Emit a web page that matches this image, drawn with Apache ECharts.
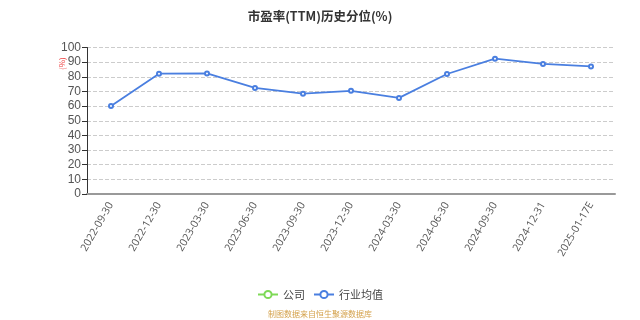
<!DOCTYPE html>
<html><head><meta charset="utf-8">
<script src="https://cdn.jsdelivr.net/npm/echarts@6/dist/echarts.min.js"></script>
<style>html,body{margin:0;padding:0;background:#fff}#c{width:640px;height:320px}</style>
</head><body><div id="c"></div>
<script>
const categories = ['2022-09-30','2022-12-30','2023-03-30','2023-06-30','2023-09-30','2023-12-30','2024-03-30','2024-06-30','2024-09-30','2024-12-31','2025-01-17E'];
const companyValues = [];
const industryValues = [60.1, 82.1, 82.3, 72.4, 68.5, 70.4, 65.6, 81.9, 92.4, 88.8, 87.1];
const yTicks = [0, 10, 100];
const chart = echarts.init(document.getElementById('c'));
chart.setOption({
  animation: false,
  title: {text: '市盈率(TTM)历史分位(%)', left: 'center', top: 5,
    textStyle: {fontSize: 12.5, fontWeight: 'bold', color: '#333', fontFamily: 'Noto Sans CJK SC'}},
  grid: {left: 87, right: 25, top: 47.5, bottom: 126},
  legend: {bottom: 15, itemGap: 8, itemWidth: 20, itemHeight: 9,
    textStyle: {fontSize: 11, color: '#444', fontFamily: 'Noto Sans CJK SC'},
    data: ['公司', '行业均值']},
  graphic: [
    {type: 'text', left: 'center', top: 310, style: {text: '制图数据来自恒生聚源数据库', fill: '#d4a24c', fontSize: 8, fontFamily: 'Noto Sans CJK SC'}},
    {type: 'text', x: 58, y: 70, rotation: Math.PI / 2, style: {text: '(%)', fill: '#ee4444', fontSize: 8, fontFamily: 'Noto Sans CJK SC'}}
  ],
  xAxis: {type: 'category', data: categories, boundaryGap: true,
    axisLine: {lineStyle: {color: '#999', width: 2}},
    axisTick: {lineStyle: {color: '#666'}},
    axisLabel: {rotate: 60, fontSize: 10.5, color: '#555', margin: 9, fontFamily: 'Open Sans'}},
  yAxis: {type: 'value', min: yTicks[0], max: yTicks[2], interval: yTicks[1],
    axisLine: {show: true, lineStyle: {color: '#333'}},
    axisTick: {show: true, lineStyle: {color: '#333'}},
    axisLabel: {fontSize: 12, color: '#555', margin: 6},
    splitLine: {lineStyle: {type: 'dashed', color: '#ccc'}}},
  series: [
    {name: '公司', type: 'line', data: companyValues, symbol: 'emptyCircle', itemStyle: {color: '#7ed957'}, lineStyle: {color: '#7ed957', width: 1.2}},
    {name: '行业均值', type: 'line', data: industryValues, symbol: 'emptyCircle', symbolSize: 4,
      itemStyle: {color: '#4a7fe0'}, lineStyle: {color: '#4a7fe0', width: 1.8}}
  ]
});
</script></body></html>
